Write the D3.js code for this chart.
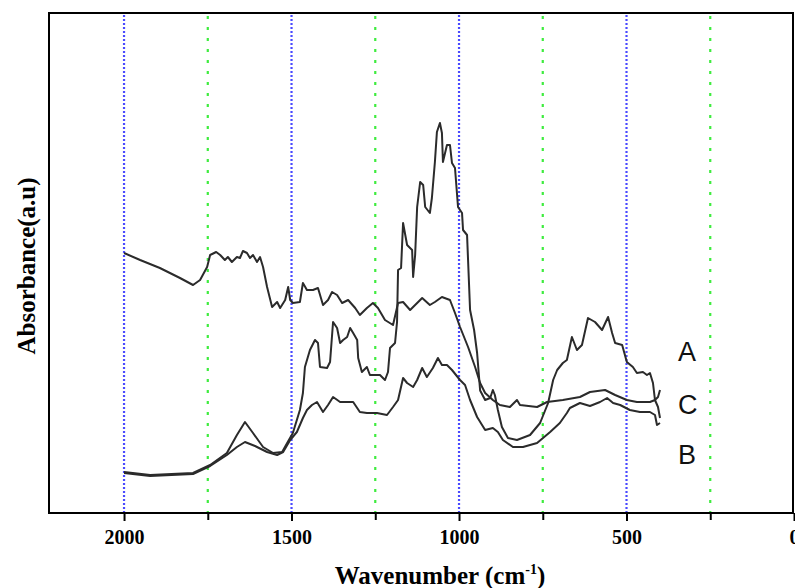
<!DOCTYPE html>
<html>
<head>
<meta charset="utf-8">
<script src="https://cdn.jsdelivr.net/npm/d3@7"></script>
<style>
  html, body { margin: 0; padding: 0; background: #fff; }
  svg { display: block; }
</style>
</head>
<body>
<svg id="chart" width="795" height="588"></svg>
<script>
// ---- data (wavenumber cm^-1, absorbance a.u.) ----
const seriesA = [[2000,.082],[1922,.076],[1794,.080],[1743,.096],[1693,.120],[1663,.156],[1639,.182],[1615,.160],[1585,.132],[1555,.120],[1528,.122],[1513,.140],[1496,.160],[1475,.206],[1466,.240],[1460,.292],[1445,.326],[1430,.346],[1421,.340],[1415,.292],[1394,.290],[1385,.302],[1376,.382],[1364,.370],[1355,.340],[1346,.346],[1334,.352],[1325,.370],[1316,.360],[1304,.346],[1301,.310],[1290,.282],[1275,.292],[1266,.276],[1236,.276],[1221,.266],[1212,.282],[1206,.330],[1191,.340],[1185,.382],[1182,.486],[1173,.490],[1167,.580],[1155,.536],[1140,.526],[1137,.472],[1131,.516],[1125,.612],[1116,.662],[1107,.656],[1101,.612],[1087,.600],[1081,.630],[1072,.702],[1066,.762],[1057,.780],[1051,.760],[1048,.702],[1036,.736],[1027,.736],[1021,.700],[1012,.690],[1003,.612],[991,.600],[988,.566],[976,.556],[973,.506],[967,.406],[955,.366],[946,.320],[937,.245],[922,.226],[907,.230],[899,.246],[893,.236],[884,.206],[872,.172],[854,.150],[827,.146],[788,.156],[758,.180],[734,.220],[719,.266],[707,.286],[690,.300],[678,.306],[663,.352],[648,.326],[633,.336],[615,.390],[594,.382],[573,.366],[555,.392],[543,.360],[534,.340],[513,.336],[499,.302],[481,.292],[469,.280],[451,.282],[439,.276],[430,.280],[421,.260],[415,.226],[406,.232],[400,.246]];

const seriesB = [[2000,.080],[1922,.074],[1794,.078],[1743,.094],[1693,.116],[1663,.132],[1639,.142],[1609,.134],[1573,.122],[1543,.116],[1525,.122],[1504,.146],[1484,.162],[1466,.190],[1454,.206],[1439,.216],[1424,.222],[1406,.202],[1391,.216],[1376,.232],[1355,.222],[1334,.222],[1316,.222],[1296,.202],[1275,.200],[1245,.200],[1215,.196],[1197,.212],[1182,.226],[1167,.270],[1155,.260],[1137,.252],[1125,.266],[1110,.290],[1096,.272],[1078,.290],[1063,.310],[1051,.296],[1036,.296],[1021,.286],[997,.266],[982,.256],[967,.226],[946,.192],[922,.166],[899,.170],[884,.162],[869,.146],[839,.132],[809,.132],[767,.140],[728,.162],[699,.180],[678,.200],[669,.210],[639,.220],[609,.214],[579,.222],[558,.230],[540,.220],[519,.216],[490,.206],[460,.202],[430,.202],[415,.196],[409,.176],[400,.180]];

const seriesC = [[2000,.520],[1952,.506],[1893,.490],[1833,.470],[1794,.456],[1773,.466],[1752,.492],[1743,.516],[1725,.522],[1713,.516],[1699,.506],[1690,.512],[1678,.502],[1663,.512],[1654,.510],[1645,.524],[1633,.520],[1624,.510],[1615,.516],[1603,.502],[1594,.512],[1585,.492],[1573,.452],[1558,.412],[1543,.422],[1534,.410],[1519,.426],[1510,.452],[1504,.426],[1496,.420],[1475,.422],[1466,.460],[1454,.446],[1436,.446],[1421,.450],[1406,.416],[1391,.426],[1379,.442],[1364,.436],[1349,.420],[1331,.426],[1310,.410],[1296,.396],[1275,.410],[1257,.420],[1242,.410],[1221,.386],[1197,.376],[1182,.420],[1167,.422],[1146,.406],[1137,.412],[1110,.430],[1087,.416],[1072,.422],[1051,.432],[1027,.426],[1012,.400],[997,.372],[973,.332],[952,.292],[937,.260],[922,.240],[899,.226],[878,.216],[848,.212],[827,.226],[818,.216],[767,.212],[737,.222],[690,.226],[639,.232],[609,.242],[564,.246],[534,.236],[499,.226],[469,.222],[430,.222],[415,.226],[406,.212],[400,.190]];

const majorTicks = [2000, 1500, 1000, 500, 0];
const minorTicks = [1750, 1250, 750, 250];
const seriesLabels = [
  {name: "A", at: 0.305},
  {name: "C", at: 0.198},
  {name: "B", at: 0.098}
];

// ---- layout ----
const svg = d3.select("#chart");
const mLeft = 49, mRight = 794, mTop = 13, mBottom = 513;

const x = d3.scaleLinear().domain([2224, 0]).range([mLeft, mRight]);
const y = d3.scaleLinear().domain([0, 1]).range([mBottom, mTop]);

// grid lines
const g = svg.append("g");
g.selectAll("line.gmaj").data(majorTicks.filter(d => d > 0)).enter().append("line")
  .attr("x1", d => x(d)).attr("x2", d => x(d))
  .attr("y1", mTop + 2).attr("y2", mBottom)
  .attr("stroke", "#4a4aff").attr("stroke-width", 2.2)
  .attr("stroke-dasharray", "2,2");
g.selectAll("line.gmin").data(minorTicks).enter().append("line")
  .attr("x1", d => x(d)).attr("x2", d => x(d))
  .attr("y1", mTop + 3).attr("y2", mBottom)
  .attr("stroke", "#3fec3f").attr("stroke-width", 2.2)
  .attr("stroke-dasharray", "3,8");

// curves
const line = d3.line().x(d => x(d[0])).y(d => y(d[1]));
[seriesC, seriesB, seriesA].forEach(s => {
  svg.append("path").datum(s)
    .attr("d", line)
    .attr("fill", "none")
    .attr("stroke", "#2b2b2b")
    .attr("stroke-width", 2)
    .attr("stroke-linejoin", "round");
});

// x axis
const xAxis = d3.axisBottom(x).tickValues(majorTicks).tickSize(8).tickPadding(9).tickFormat(d3.format("d"));
const ax = svg.append("g").attr("transform", `translate(0,${mBottom})`).call(xAxis);
ax.select(".domain").remove();
ax.selectAll(".tick line").attr("stroke", "#000").attr("stroke-width", 2);
ax.selectAll(".tick text")
  .attr("fill", "#000")
  .style("font-family", "'Liberation Serif', 'Times New Roman', serif")
  .style("font-weight", "bold")
  .style("font-size", "20px");
const axMinor = d3.axisBottom(x).tickValues(minorTicks).tickSize(7).tickFormat("");
const am = svg.append("g").attr("transform", `translate(0,${mBottom})`).call(axMinor);
am.select(".domain").remove();
am.selectAll(".tick line").attr("stroke", "#000").attr("stroke-width", 2);

// frame
svg.append("rect")
  .attr("x", mLeft).attr("y", mTop)
  .attr("width", 793 - mLeft).attr("height", mBottom - mTop)
  .attr("fill", "none").attr("stroke", "#000").attr("stroke-width", 2);

// axis titles
const xt = svg.append("text")
  .attr("x", 440).attr("y", 584)
  .attr("text-anchor", "middle")
  .style("font-family", "'Liberation Serif', 'Times New Roman', serif")
  .style("font-weight", "bold")
  .style("font-size", "25px")
  .attr("fill", "#000");
xt.append("tspan").text("Wavenumber (cm");
xt.append("tspan").text("-1").attr("dy", -10).style("font-size", "14px");
xt.append("tspan").text(")").attr("dy", 10);

svg.append("text")
  .attr("transform", "translate(35,266) rotate(-90)")
  .attr("text-anchor", "middle")
  .style("font-family", "'Liberation Serif', 'Times New Roman', serif")
  .style("font-weight", "bold")
  .style("font-size", "25px")
  .attr("fill", "#000")
  .text("Absorbance(a.u)");

// series labels
svg.selectAll("text.slabel").data(seriesLabels).enter().append("text")
  .attr("x", 678)
  .attr("y", d => y(d.at))
  .style("font-family", "'Liberation Sans', Arial, sans-serif")
  .style("font-size", "27px")
  .attr("fill", "#111")
  .text(d => d.name);
</script>
</body>
</html>
